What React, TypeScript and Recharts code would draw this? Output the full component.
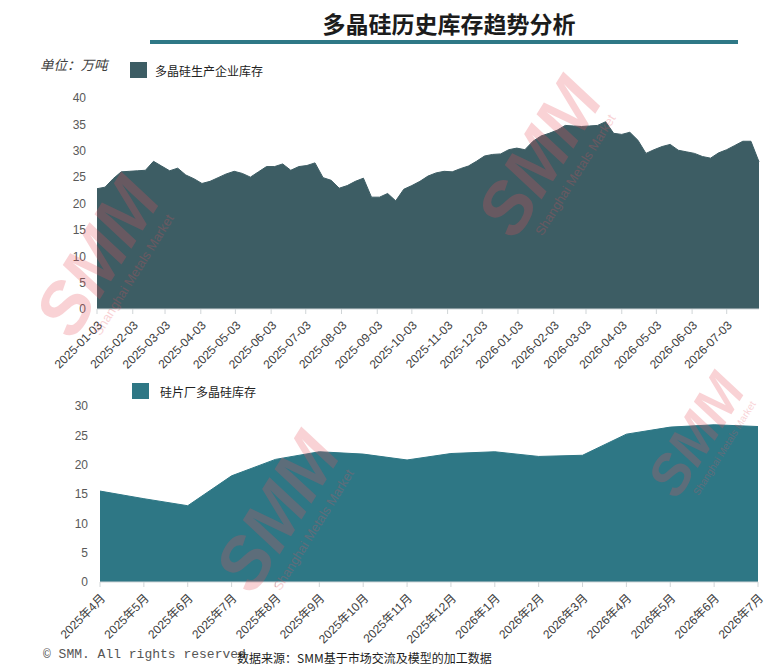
import { Area, AreaChart, XAxis, YAxis } from "recharts";

const FONT = "'Liberation Sans', 'Noto Sans CJK SC', sans-serif";

// weekly producer inventory
const topDates = [
  "2025-01-03", "2025-01-10", "2025-01-17", "2025-01-24", "2025-01-31",
  "2025-02-07", "2025-02-14", "2025-02-21", "2025-02-28",
  "2025-03-07", "2025-03-14", "2025-03-21", "2025-03-28",
  "2025-04-04", "2025-04-11", "2025-04-18", "2025-04-25",
  "2025-05-02", "2025-05-09", "2025-05-16", "2025-05-23", "2025-05-30",
  "2025-06-06", "2025-06-13", "2025-06-20", "2025-06-27",
  "2025-07-04", "2025-07-11", "2025-07-18", "2025-07-25",
  "2025-08-01", "2025-08-08", "2025-08-15", "2025-08-22", "2025-08-29",
  "2025-09-05", "2025-09-12", "2025-09-19", "2025-09-26",
  "2025-10-03", "2025-10-10", "2025-10-17", "2025-10-24", "2025-10-31",
  "2025-11-07", "2025-11-14", "2025-11-21", "2025-11-28",
  "2025-12-05", "2025-12-12", "2025-12-19", "2025-12-26",
  "2026-01-02", "2026-01-09", "2026-01-16", "2026-01-23", "2026-01-30",
  "2026-02-06", "2026-02-13", "2026-02-20", "2026-02-27",
  "2026-03-06", "2026-03-13", "2026-03-20", "2026-03-27",
  "2026-04-03", "2026-04-10", "2026-04-17", "2026-04-24",
  "2026-05-01", "2026-05-08", "2026-05-15", "2026-05-22", "2026-05-29",
  "2026-06-05", "2026-06-12", "2026-06-19", "2026-06-26",
  "2026-07-03", "2026-07-10", "2026-07-17", "2026-07-24", "2026-07-31",
];

const topValues = [
  22.8, 23.1, 24.7, 26.0, 26.1,
  26.2, 26.3, 28.0, 27.1,
  26.2, 26.7, 25.4, 24.7,
  23.8, 24.2, 24.9, 25.6,
  26.1, 25.7, 25.0, 26.0, 27.0,
  27.0, 27.5, 26.3, 27.0,
  27.2, 27.7, 24.9, 24.4,
  22.9, 23.4, 24.2, 24.8, 21.2,
  21.2, 21.9, 20.5, 22.7,
  23.4, 24.2, 25.2, 25.8, 26.1,
  26.0, 26.6, 27.1, 28.0,
  29.0, 29.3, 29.4, 30.2,
  30.5, 30.2, 31.8, 32.8, 33.3,
  33.9, 34.8, 34.7, 34.6,
  34.7, 34.8, 35.5, 33.3,
  33.1, 33.5, 32.0, 29.5,
  30.2, 30.8, 31.2, 30.1, 29.8,
  29.5, 28.9, 28.6, 29.6,
  30.2, 31.0, 31.8, 31.8, 27.9,
];

const topTicks = [
  "2025-01-03", "2025-02-03", "2025-03-03", "2025-04-03", "2025-05-03",
  "2025-06-03", "2025-07-03", "2025-08-03", "2025-09-03", "2025-10-03",
  "2025-11-03", "2025-12-03", "2026-01-03", "2026-02-03", "2026-03-03",
  "2026-04-03", "2026-05-03", "2026-06-03", "2026-07-03",
];

// monthly wafer-maker inventory
const bottomMonths = [
  "2025年4月", "2025年5月", "2025年6月", "2025年7月", "2025年8月", "2025年9月",
  "2025年10月", "2025年11月", "2025年12月", "2026年1月", "2026年2月", "2026年3月",
  "2026年4月", "2026年5月", "2026年6月", "2026年7月",
];

const bottomValues = [
  15.5, 14.2, 13.0, 18.1, 20.9, 22.2, 21.8, 20.8,
  21.9, 22.2, 21.4, 21.6, 25.2, 26.4, 26.8, 26.5,
];

const topData = topDates.map((d, i) => ({ t: Date.parse(d), v: topValues[i] }));
const bottomData = bottomMonths.map((m, i) => ({ m, v: bottomValues[i] }));

const TOP_COLOR = "#3d5d64";
const BOTTOM_COLOR = "#2e7785";

function AngledTick(props: any) {
  const { x, y, payload, format } = props;
  const label = format ? format(payload.value) : payload.value;
  const ax = x + 3;
  const ay = y + 7;
  return (
    <text
      x={ax}
      y={ay}
      dy="0.35em"
      textAnchor="end"
      fontSize={12}
      fontFamily={FONT}
      fill="#404040"
      transform={`rotate(-45, ${ax}, ${ay})`}
    >
      {label}
    </text>
  );
}

const fmtDate = (v: number) => new Date(v).toISOString().slice(0, 10);

function Square({ left, top, color }: { left: number; top: number; color: string }) {
  return (
    <div style={{ position: "absolute", left, top, width: 17, height: 16, background: color }} />
  );
}

function Watermark({ x, y, size = 72 }: { x: number; y: number; size?: number }) {
  return (
    <g transform={`translate(${x}, ${y}) rotate(-58)`} opacity={0.25}>
      <text
        x={0}
        y={0}
        textAnchor="middle"
        fontSize={size}
        fontWeight="bold"
        fontStyle="italic"
        fontFamily={FONT}
        fill="#e8505c"
      >
        SMM
      </text>
      <text x={4} y={size * 0.28} textAnchor="middle" fontSize={size * 0.18} fontFamily={FONT} fill="#e8505c">
        Shanghai Metals Market
      </text>
    </g>
  );
}

export default function App() {
  return (
    <div
      style={{
        position: "absolute",
        left: 0,
        top: 0,
        width: 770,
        height: 667,
        background: "#fff",
        fontFamily: FONT,
        overflow: "hidden",
      }}
    >
      <div
        style={{
          position: "absolute",
          left: 150,
          top: 6,
          width: 598,
          textAlign: "center",
          fontSize: 23,
          fontWeight: "bold",
          color: "#1c1c1c",
          fontFamily: "'Noto Sans CJK SC', sans-serif",
        }}
      >
        多晶硅历史库存趋势分析
      </div>
      <div style={{ position: "absolute", left: 150, top: 40, width: 588, height: 4, background: "#2e7886" }} />

      <div
        style={{
          position: "absolute",
          left: 40,
          top: 54,
          fontSize: 13.5,
          fontStyle: "italic",
          color: "#404040",
        }}
      >
        单位：万吨
      </div>

      <Square left={130} top={62} color={TOP_COLOR} />
      <div style={{ position: "absolute", left: 155, top: 62, fontSize: 12, color: "#222" }}>
        多晶硅生产企业库存
      </div>

      <div style={{ position: "absolute", left: 0, top: 0 }}>
        <AreaChart
          width={770}
          height={380}
          data={topData}
          margin={{ top: 98, right: 11, bottom: 11, left: 57 }}
        >
          <XAxis
            dataKey="t"
            type="number"
            domain={["dataMin", "dataMax"]}
            ticks={topTicks.map((d) => Date.parse(d))}
            interval={0}
            height={60}
            stroke="#d0d5d7"
            tickSize={5}
            tick={(p: any) => <AngledTick {...p} format={fmtDate} />}
          />
          <YAxis
            domain={[0, 40]}
            ticks={[0, 5, 10, 15, 20, 25, 30, 35, 40]}
            width={40}
            axisLine={false}
            tickLine={false}
            tickMargin={5}
            tick={{ fontSize: 12, fill: "#595959", fontFamily: FONT }}
          />
          <Area
            type="linear"
            dataKey="v"
            stroke={TOP_COLOR}
            strokeWidth={1}
            fill={TOP_COLOR}
            fillOpacity={1}
            isAnimationActive={false}
          />
        </AreaChart>
      </div>

      <Square left={132} top={383} color={BOTTOM_COLOR} />
      <div style={{ position: "absolute", left: 160, top: 383, fontSize: 12, color: "#222" }}>
        硅片厂多晶硅库存
      </div>

      <div style={{ position: "absolute", left: 0, top: 380 }}>
        <AreaChart
          width={770}
          height={270}
          data={bottomData}
          margin={{ top: 26, right: 12, bottom: 8, left: 60 }}
        >
          <XAxis
            dataKey="m"
            interval={0}
            height={60}
            stroke="#d0d5d7"
            tickSize={5}
            tick={(p: any) => <AngledTick {...p} />}
          />
          <YAxis
            domain={[0, 30]}
            ticks={[0, 5, 10, 15, 20, 25, 30]}
            width={40}
            axisLine={false}
            tickLine={false}
            tickMargin={6}
            tick={{ fontSize: 12, fill: "#595959", fontFamily: FONT }}
          />
          <Area
            type="linear"
            dataKey="v"
            stroke={BOTTOM_COLOR}
            strokeWidth={1}
            fill={BOTTOM_COLOR}
            fillOpacity={1}
            isAnimationActive={false}
          />
        </AreaChart>
      </div>

      <svg
        width={770}
        height={667}
        style={{ position: "absolute", left: 0, top: 0, pointerEvents: "none" }}
      >
        <Watermark x={118} y={270} />
        <Watermark x={560} y={170} />
        <Watermark x={298} y={525} />
        <Watermark x={712} y={445} size={56} />
      </svg>

      <div
        style={{
          position: "absolute",
          left: 43,
          top: 647,
          fontSize: 13,
          fontFamily: "'Liberation Mono', monospace",
          color: "#555",
        }}
      >
        © SMM. All rights reserved
      </div>
      <div
        style={{
          position: "absolute",
          left: 237,
          top: 649,
          fontSize: 12,
          color: "#1c1c1c",
          fontFamily: "'Noto Sans CJK SC', sans-serif",
        }}
      >
        数据来源：SMM基于市场交流及模型的加工数据
      </div>
    </div>
  );
}
